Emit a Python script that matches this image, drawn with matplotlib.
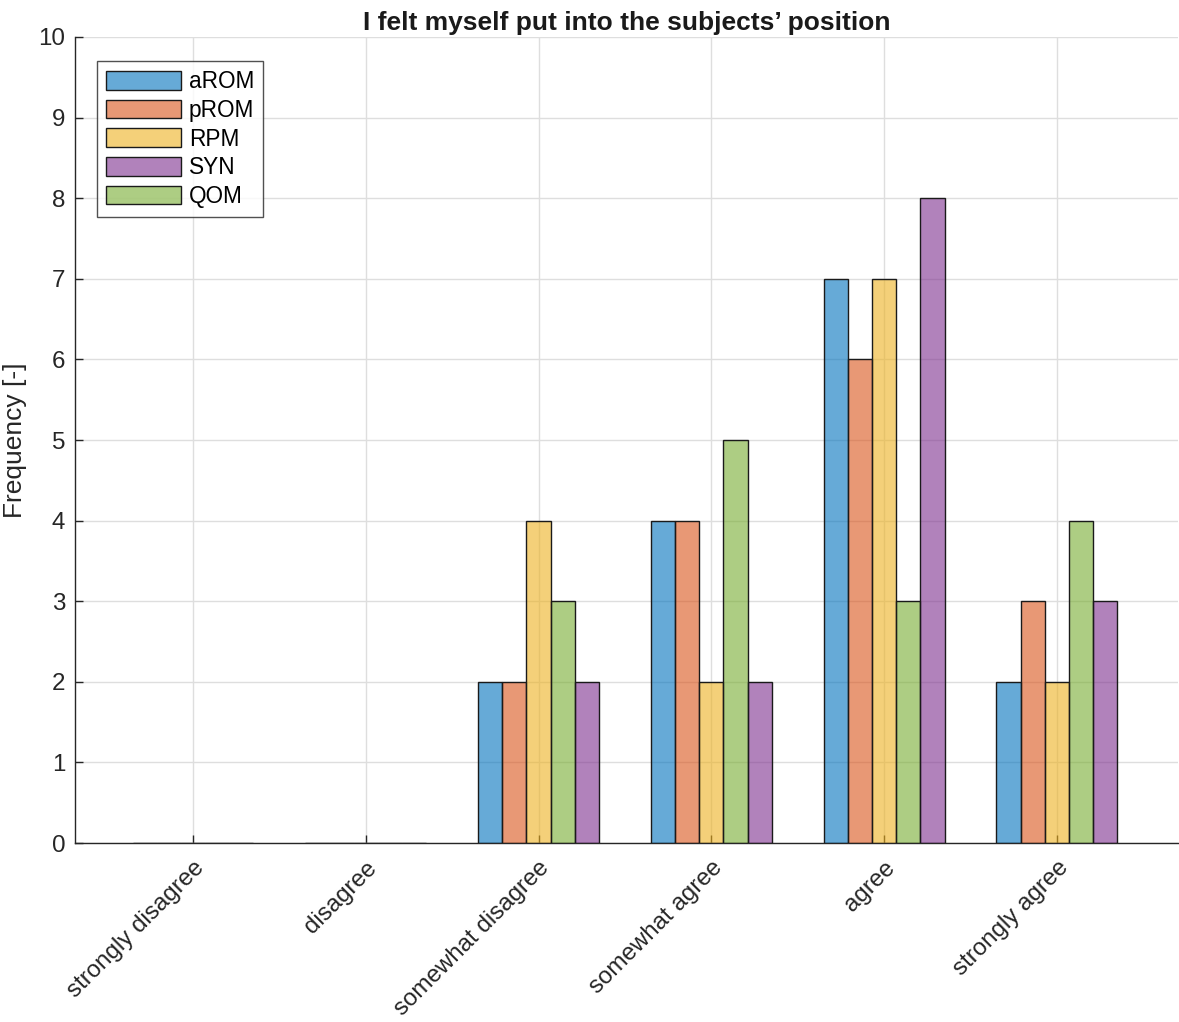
import numpy as np
import matplotlib
matplotlib.use("Agg")
import matplotlib.pyplot as plt

plt.rcParams['font.family'] = ['Liberation Sans', 'DejaVu Sans']

categories = ["strongly disagree", "disagree", "somewhat disagree",
              "somewhat agree", "agree", "strongly agree"]
aROM = [0, 0, 2, 4, 7, 2]
pROM = [0, 0, 2, 4, 6, 3]
RPM = [0, 0, 4, 2, 7, 2]
QOM = [0, 0, 3, 5, 3, 4]
SYN = [0, 0, 2, 2, 8, 3]

# order the bars are drawn in within each group
series = [("aROM", aROM, (0.000, 0.447, 0.741)),
          ("pROM", pROM, (0.850, 0.325, 0.098)),
          ("RPM", RPM, (0.929, 0.694, 0.125)),
          ("QOM", QOM, (0.466, 0.674, 0.188)),
          ("SYN", SYN, (0.494, 0.184, 0.556))]
legend_order = ["aROM", "pROM", "RPM", "SYN", "QOM"]

fig = plt.figure(figsize=(11.79, 10.22), dpi=100)
ax = fig.add_axes([0.0636, 0.1751, 0.9354, 0.7887])

x = np.arange(1, len(categories) + 1)
width = 0.14
handles = {}
for i, (name, vals, col) in enumerate(series):
    off = (i - (len(series) - 1) / 2) * width
    b = ax.bar(x + off, vals, width, facecolor=col + (0.6,), edgecolor="#1a1a1a",
               linewidth=1.0, label=name, zorder=3)
    handles[name] = b

ax.set_xlim(0.317, 6.70)
ax.set_ylim(0, 10)
ax.set_yticks(range(0, 11))
ax.set_xticks(x)
ax.set_xticklabels(categories, rotation=45, ha="right", rotation_mode="anchor")
ax.tick_params(direction="in", length=6, width=1, colors="#262626",
               labelsize=17.4, pad=7)
ax.tick_params(axis="x", pad=10)

ax.grid(True, color="#dedede", linewidth=1.0, zorder=0)
ax.set_axisbelow(True)
for s in ["top", "right"]:
    ax.spines[s].set_visible(False)
for s in ["left", "bottom"]:
    ax.spines[s].set_color("#262626")
    ax.spines[s].set_linewidth(1.0)

ax.set_ylabel("Frequency [-]", fontsize=19, color="#262626", labelpad=8)
ax.set_title("I felt myself put into the subjects\u2019 position", fontsize=19,
             fontweight="bold", color="#1a1a1a", pad=5)

leg = ax.legend([handles[n] for n in legend_order], legend_order,
                loc="upper left", bbox_to_anchor=(0.02, 0.97), fontsize=16.3,
                frameon=True, fancybox=False, handlelength=3.3,
                handleheight=0.9, handletextpad=0.35, labelspacing=0.25,
                borderpad=0.4, borderaxespad=0)
leg.get_frame().set_edgecolor("#262626")
leg.get_frame().set_linewidth(1.0)

fig.savefig("out.png", dpi=100)
